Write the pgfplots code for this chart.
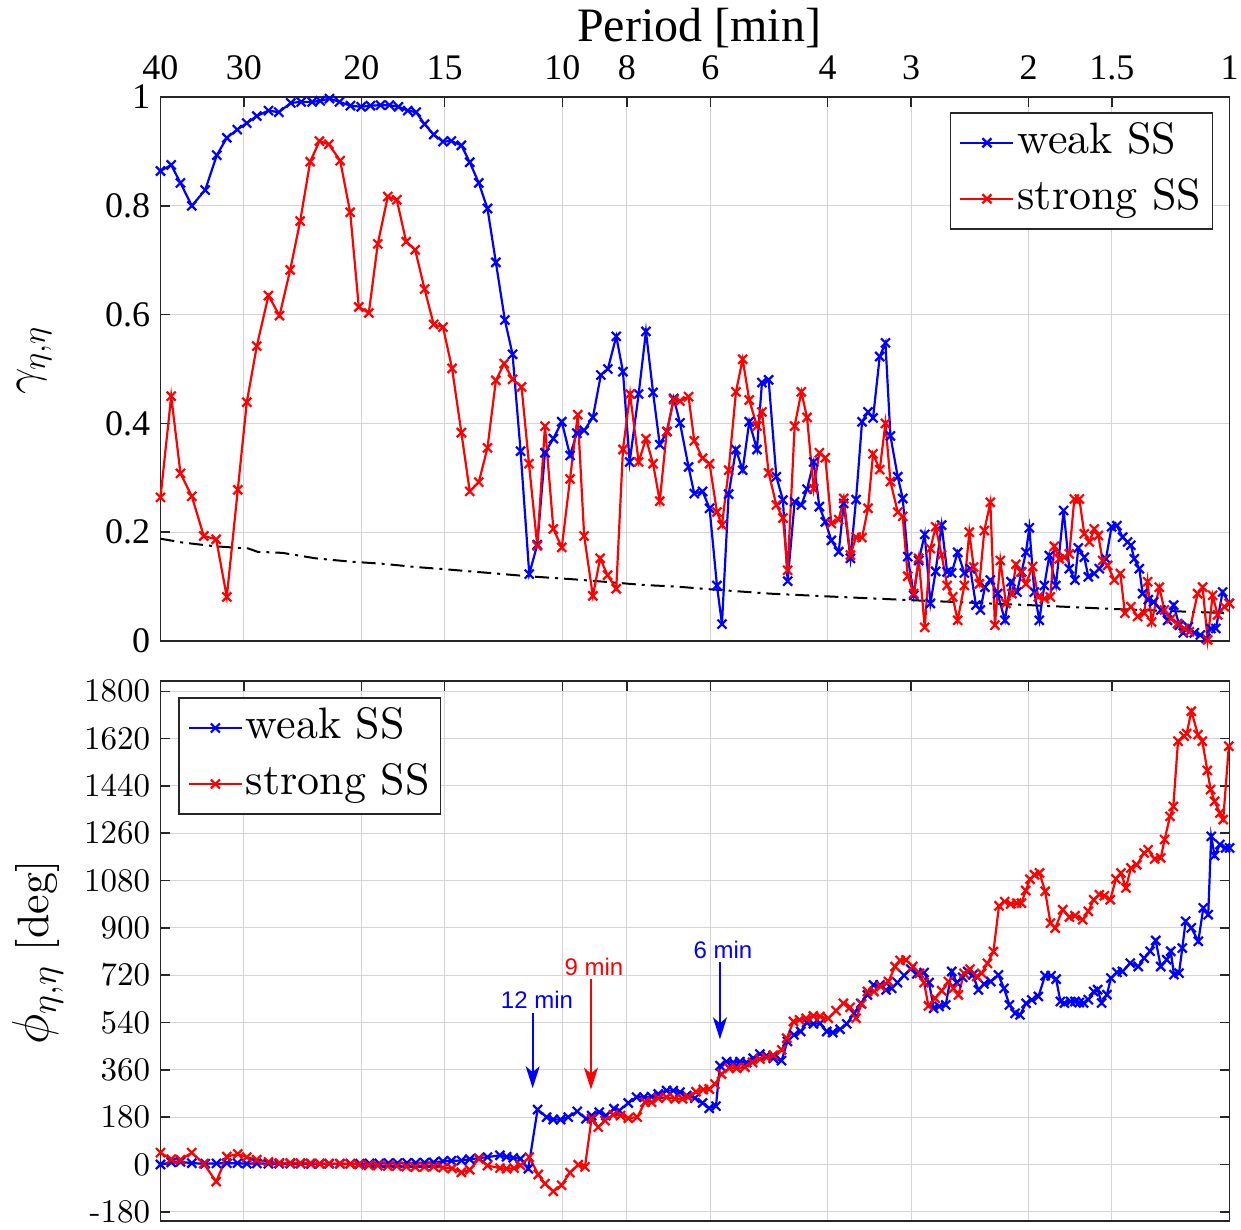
\RequirePackage{fix-cm}
\documentclass[border=0pt]{standalone}
\usepackage{pgfplots}
\pgfplotsset{compat=1.18}
\usepackage{fontspec}
\usetikzlibrary{arrows.meta}
\setmainfont{lmroman10-regular.otf}
\newfontfamily\timesf{Liberation Serif}
\newfontfamily\arialf{Liberation Sans}
\definecolor{mblue}{rgb}{0,0,1}
\definecolor{mred}{rgb}{1,0,0}
\definecolor{frame}{rgb}{0.15,0.15,0.15}

\pgfplotsset{
  mystyle/.style={
    scale only axis, width=534.5pt, xmin=0, xmax=1069.1, clip=false,
    xtick={0,83.4,200.9,284.2,401.8,466.4,549.8,667.3,750.7,868.2,951.5,1069.1},
    xmajorgrids, ymajorgrids,
    grid style={black!17, line width=0.5pt},
    axis line style={frame, line width=0.75pt},
    tick style={frame, line width=0.75pt},
    major tick length=5pt,
    tick align=inside,
    xtick pos=right,
    legend cell align=left,
    legend image code/.code={\draw[mark repeat=2,mark phase=2] plot coordinates {(0pt,0pt) (13.25pt,0pt) (26.5pt,0pt)};},
    legend style={draw=frame, line width=0.75pt, fill=white,
      font=\fontsize{22}{26}\selectfont, inner xsep=4.5pt, inner ysep=4.25pt,
      row sep=6.5pt, nodes={inner sep=1pt, text height=15pt, text depth=4.5pt},
      /tikz/every odd column/.append style={column sep=0.5pt}},
    ylabel style={font=\fontsize{22}{26}\selectfont},
  },
  ser/.style={line width=1.1pt, mark=x, mark size=3.2pt, mark options={solid, line width=1.1pt}},
}

\begin{document}
\begin{tikzpicture}
\path[use as bounding box] (-80.25pt,-294.5pt) rectangle (540.25pt,320.5pt);

% ---------------- top panel: coherence ----------------
\begin{axis}[mystyle, at={(0,0)}, anchor=south west, height=272pt,
  ymin=0, ymax=1, ytick={0,0.2,0.4,0.6,0.8,1}, yticklabels={0,0.2,0.4,0.6,0.8,1},
  ytick pos=left,
  xticklabel pos=right,
  xticklabels={40,30,20,15,10,8,6,4,3,2,1.5,1},
  xticklabel style={font=\timesf\fontsize{18}{18}\selectfont, anchor=base, yshift=8.5pt, inner sep=0pt},
  yticklabel style={font=\timesf\fontsize{18}{18}\selectfont, inner sep=0pt, xshift=-5pt},
  ylabel={\fontsize{23.5}{28}\selectfont$\gamma_{\eta,\eta}$},
  ylabel style={at={(axis description cs:-0.118,0.515)}, anchor=center},
  legend style={at={(axis description cs:0.9846,0.9724)}, anchor=north east},
]
\addplot[black, line width=1pt, dash pattern=on 7pt off 3pt on 1.5pt off 3pt, forget plot] coordinates {
(0,0.188)(22,0.181)(55,0.174)(88,0.170)(97,0.164)(122,0.162)(155,0.152)(189,0.146)(222,0.142)(255,0.136)(284,0.132)(368,0.119)(416,0.113)(450,0.108)(483,0.103)(516,0.100)(550,0.095)(610,0.087)(667,0.082)(751,0.075)(790,0.072)(868,0.066)(951,0.059)(1069.1,0.051)};

\addplot[ser, mblue] coordinates {
(0,0.864)(10.7,0.875)(20,0.842)(31.3,0.800)(44.7,0.829)(56.3,0.893)(66.3,0.925)(76.7,0.940)(86.3,0.952)(96.3,0.965)(108,0.975)(118.3,0.972)(130.3,0.989)(140.7,0.991)(151.7,0.991)(159.7,0.993)(169,0.997)(179,0.991)(190,0.984)(200.7,0.982)(210,0.984)(220,0.985)(229,0.985)(238,0.982)(247.3,0.975)(255.7,0.972)(264.1,0.950)(273.2,0.931)(282.5,0.918)(290.9,0.919)(300.9,0.911)(309.3,0.880)(318.3,0.842)(327,0.795)(335.4,0.696)(344.4,0.590)(352.1,0.527)(360.1,0.349)(368.8,0.123)(376.8,0.177)(384.5,0.346)(392.9,0.372)(401.3,0.403)(409.6,0.341)(416.3,0.382)(423.7,0.387)(432.4,0.411)(440.4,0.489)(447.4,0.500)(455.8,0.560)(462.5,0.495)(469.2,0.329)(478.2,0.454)(485.5,0.569)(492.6,0.457)(499.3,0.361)(506.6,0.385)(513.3,0.446)(519.5,0.401)(528.1,0.320)(533.8,0.271)(542.1,0.275)(549.1,0.244)(556.5,0.102)(561.5,0.031)(568.2,0.270)(575.5,0.352)(582.2,0.314)(588.8,0.403)(596.5,0.352)(601.5,0.475)(608.2,0.480)(615.9,0.302)(622.5,0.259)(627.2,0.110)(634.2,0.256)(640.9,0.250)(646.6,0.279)(653.2,0.329)(658.9,0.247)(664.9,0.219)(670.9,0.185)(678.3,0.164)(683.3,0.253)(690,0.152)(695.6,0.260)(701.6,0.403)(707.6,0.421)(712.6,0.410)(719.3,0.523)(725,0.548)(730,0.377)(737.3,0.302)(742.3,0.262)(747.3,0.155)(753.3,0.084)(758.3,0.148)(764.3,0.196)(770,0.069)(775.2,0.128)(781.2,0.213)(786.7,0.127)(791.2,0.125)(797.2,0.163)(803.9,0.125)(809.9,0.133)(815.5,0.066)(819.9,0.057)(824.5,0.099)(829.9,0.112)(837.2,0.087)(844.5,0.038)(850.5,0.109)(856.5,0.090)(861.2,0.127)(865.5,0.163)(868.9,0.208)(873.9,0.090)(878.9,0.038)(883.9,0.102)(888.9,0.157)(895.5,0.102)(903.2,0.240)(908.9,0.133)(914.5,0.112)(917.9,0.171)(923.9,0.154)(927.9,0.118)(933.9,0.124)(938.9,0.133)(945.5,0.151)(951.2,0.210)(956.5,0.212)(962.2,0.191)(967.2,0.182)(970.5,0.176)(973.9,0.151)(978.9,0.133)(982.2,0.087)(987.9,0.076)(993.2,0.072)(1000.5,0.057)(1007.2,0.038)(1013.2,0.066)(1018.9,0.029)(1022.9,0.015)(1027.9,0.026)(1033.9,0.015)(1039.9,0.011)(1045.5,0.005)(1050.5,0.023)(1055.5,0.023)(1062.2,0.090)(1068.9,0.069)};
\addlegendentry{weak SS}

\addplot[ser, mred] coordinates {
(0,0.264)(10.7,0.450)(20,0.308)(31.3,0.266)(43.3,0.193)(55.7,0.187)(66.3,0.081)(77.3,0.278)(86.3,0.439)(96.3,0.542)(108,0.635)(119,0.598)(129.7,0.682)(139.7,0.772)(149.7,0.881)(159,0.919)(168.3,0.913)(179.7,0.883)(189.7,0.788)(198.3,0.614)(208.3,0.603)(217.3,0.730)(227.3,0.817)(236.3,0.811)(245.7,0.734)(254.7,0.719)(264.1,0.647)(273.2,0.582)(282.5,0.577)(291.6,0.501)(300.9,0.383)(309.3,0.275)(318.3,0.292)(327,0.355)(335.4,0.479)(343.7,0.510)(352.1,0.481)(361.1,0.467)(368.5,0.326)(376.8,0.175)(384.5,0.395)(392.9,0.206)(401.3,0.172)(409.6,0.298)(417.3,0.416)(423.7,0.193)(432.4,0.083)(439.7,0.152)(447.1,0.121)(455.8,0.096)(462.5,0.352)(469.6,0.454)(478.2,0.329)(485.5,0.372)(492.6,0.326)(499.3,0.257)(506.3,0.385)(513.3,0.444)(519.5,0.441)(528.1,0.449)(533.8,0.368)(542.1,0.336)(549.1,0.326)(556.5,0.237)(561.5,0.213)(568.2,0.314)(575.5,0.458)(582.2,0.518)(588.8,0.443)(596.5,0.395)(601.5,0.421)(608.2,0.309)(615.9,0.250)(622.5,0.226)(627.2,0.130)(634.2,0.395)(640.9,0.458)(646.6,0.411)(653.2,0.280)(658.9,0.346)(664.9,0.337)(670.9,0.216)(678.3,0.223)(683.3,0.262)(690,0.158)(695.6,0.191)(701.6,0.190)(707.6,0.244)(712.6,0.344)(719.3,0.315)(725,0.400)(730,0.293)(737.3,0.237)(742.3,0.229)(747.3,0.119)(753.3,0.087)(758.3,0.152)(764.3,0.025)(770,0.170)(775.2,0.210)(781.2,0.158)(786.7,0.102)(792.2,0.081)(797.2,0.038)(803.9,0.102)(808.9,0.200)(813.2,0.136)(818.9,0.105)(823.9,0.203)(829.9,0.255)(834.5,0.029)(839.9,0.148)(845.5,0.069)(851.5,0.087)(855.5,0.141)(860.5,0.127)(865.5,0.105)(872.2,0.137)(877.9,0.081)(883.9,0.078)(889.9,0.081)(893.9,0.174)(898.9,0.151)(903.9,0.154)(908.9,0.160)(913.9,0.261)(918.9,0.261)(923.9,0.197)(928.9,0.182)(933.9,0.206)(937.9,0.194)(942.2,0.148)(947.2,0.139)(953.9,0.112)(959.9,0.124)(964.5,0.051)(970.5,0.063)(977.2,0.045)(983.9,0.051)(987.2,0.109)(991.2,0.035)(998.9,0.099)(1003.9,0.057)(1010.5,0.041)(1017.2,0.032)(1023.9,0.023)(1028.9,0.017)(1037.2,0.087)(1042.2,0.099)(1047.2,0.002)(1052.2,0.084)(1057.2,0.048)(1063.9,0.063)(1068.9,0.069)};
\addlegendentry{strong SS}

\node[font=\timesf\fontsize{24}{24}\selectfont, anchor=base, inner sep=0pt, yshift=27.5pt] at (axis description cs:0.504,1) {Period [min]};
\end{axis}

% ---------------- bottom panel: phase ----------------
\begin{axis}[mystyle, at={(0,-20pt)}, anchor=north west, height=270pt,
  ymin=-215, ymax=1839,
  ytick={-180,0,180,360,540,720,900,1080,1260,1440,1620,1800},
  yticklabels={-180,0,180,360,540,720,900,1080,1260,1440,1620,1800},
  ytick pos=both,
  xticklabels={},
  yticklabel style={font=\fontsize{16.5}{16.5}\selectfont, inner sep=0pt, xshift=-5pt},
  ylabel={{\fontsize{26}{30}\selectfont$\phi_{\eta,\eta}$} [deg]},
  ylabel style={at={(axis description cs:-0.115,0.497)}, anchor=center},
  legend style={at={(axis description cs:0.0164,0.970)}, anchor=north west},
]
\addplot[ser, mblue] coordinates {
(0,0)(10.7,8)(20,10)(31.3,5)(44.7,3)(56,4)(66.3,5)(77,5)(86.3,3)(96.3,4)(108,3)(118.7,3)(130,3)(140.2,3)(150.7,2)(159.3,3)(168.7,3)(179.3,3)(190,3)(199.5,3)(209,4)(218.7,4)(228,5)(237,5)(246.5,6)(255.2,6)(264.1,7)(273.2,8)(282.5,12)(291,14)(300.9,15)(309.3,20)(318.3,24)(327,28)(339.5,35)(346.1,29)(352.8,25)(360.1,22)(367.8,-16)(377.1,209)(386.1,180)(392.8,171)(400.1,171)(407.8,180)(416.8,202)(425.5,174)(431.1,186)(438.8,199)(445.5,186)(453.5,212)(458.8,205)(467.8,234)(476.1,256)(483.5,256)(491.1,258)(497.8,268)(506.1,281)(512.8,281)(519.5,275)(526.1,262)(534.5,252)(542.1,234)(548.8,214)(555.5,222)(559.5,376)(566.1,391)(572.8,388)(579.5,391)(586.1,388)(592.8,404)(599.5,420)(606.1,414)(612.8,404)(621.1,395)(627,468)(633.6,493)(640.3,506)(646.3,540)(653,535)(659.6,537)(666.3,506)(672.3,502)(679.6,514)(686.3,535)(693.6,575)(700.3,613)(707,645)(713,683)(719.6,683)(725.6,664)(731.3,670)(737,692)(743.6,719)(750.3,743)(756.3,725)(763.6,730)(768.6,692)(773.3,594)(778.6,601)(785.3,607)(791.3,734)(796.3,692)(802.3,712)(807.3,734)(812.3,721)(818,664)(823.6,687)(830.3,696)(838,721)(843.6,670)(849,607)(854.6,575)(859.6,569)(865.6,613)(871.3,626)(878,639)(884.6,718)(890.7,718)(895.7,705)(900,620)(904,614)(910,620)(914.6,620)(918.9,616)(923.2,614)(927.9,627)(933.2,658)(937.2,665)(941.2,614)(946.5,646)(950.5,709)(956.5,731)(962.1,734)(969.8,766)(977.8,753)(983.7,785)(989.7,811)(995.3,852)(1000.3,753)(1006.3,779)(1010.3,811)(1013.6,722)(1018.6,728)(1021.9,823)(1025.2,925)(1030.9,900)(1037.9,849)(1042.9,976)(1047.8,950)(1050.8,1248)(1054.2,1175)(1059.5,1217)(1065.1,1204)(1069.1,1204)};
\addlegendentry{weak SS}

\addplot[ser, mred] coordinates {
(0,45)(10.7,20)(20,18)(31.3,45)(43.3,3)(55.7,-65)(66.3,30)(77.3,40)(86.3,28)(96.3,18)(108,10)(119,6)(129.7,6)(139.7,5)(149.7,4)(159,3)(168.3,3)(179.7,2)(189.7,2)(198.3,0)(208.3,-3)(217.3,-4)(227.3,-6)(236.3,-6)(245.7,-8)(254.7,-10)(264.1,-9)(273.2,-8)(282.5,-12)(291.6,-15)(300.9,-30)(309.3,-20)(318.3,21)(327,-4)(339.5,-14)(346.1,-16)(353.5,-14)(360.1,-3)(368.8,28)(377.8,-38)(384.5,-73)(392.8,-102)(401.1,-79)(409.5,-31)(417.8,-1)(424.5,-9)(431.1,174)(437.8,142)(444.5,167)(452.8,189)(460.1,186)(467.8,176)(476.8,180)(484.5,237)(491.1,237)(497.8,252)(506.1,256)(514.5,250)(522.1,250)(527.8,256)(535.5,277)(542.8,285)(548.8,287)(554.5,306)(561.1,344)(568.8,366)(576.1,366)(584.5,370)(592.1,388)(599.5,401)(606.1,407)(612.8,416)(621.3,436)(626.3,480)(633,544)(639,550)(645.6,556)(653,565)(659.6,563)(667.9,556)(675.6,585)(683,613)(689.6,598)(695.6,556)(701.3,611)(707,658)(713.6,658)(720.3,677)(728,696)(734.6,753)(739.6,776)(745.6,778)(752.3,753)(759,727)(763.6,692)(768,603)(774.6,632)(781.3,661)(788,696)(793,670)(798,645)(803.6,727)(809.6,743)(816.3,715)(821.3,727)(827,765)(833,810)(838.6,984)(844.3,1000)(850.3,991)(856.3,994)(861,994)(865.3,1042)(869.6,1085)(874.1,1102)(879.1,1109)(884.7,1039)(890.1,918)(894.7,899)(902.3,969)(909,941)(914.6,946)(922.3,931)(927.9,963)(933.2,1007)(938.9,1026)(943.9,1022)(949.8,1007)(955.5,1086)(960.5,1109)(965.5,1052)(970.5,1128)(976.4,1140)(983.7,1185)(987.7,1197)(994.2,1162)(1000.3,1166)(1004.2,1236)(1009.6,1324)(1012.9,1362)(1017.6,1610)(1023.6,1629)(1026.3,1639)(1030.9,1724)(1037.6,1635)(1041.9,1610)(1046.9,1499)(1050.2,1426)(1054.2,1381)(1059.5,1337)(1062.8,1312)(1068.4,1591)};
\addlegendentry{strong SS}

\draw[mblue, line width=1pt, -{Stealth[length=11pt,width=7pt,inset=3pt]}] (axis cs:372.2,578) -- (axis cs:372.2,290);
\draw[mred, line width=1pt, -{Stealth[length=11pt,width=7pt,inset=3pt]}] (axis cs:430.5,704) -- (axis cs:430.5,285);
\draw[mblue, line width=1pt, -{Stealth[length=11pt,width=7pt,inset=3pt]}] (axis cs:559.5,772) -- (axis cs:559.5,476);
\node[mblue, font=\arialf\fontsize{12}{14}\selectfont, inner sep=0pt] at (axis cs:376.5,628) {12 min};
\node[mred, font=\arialf\fontsize{12}{14}\selectfont, inner sep=0pt] at (axis cs:433.5,750) {9 min};
\node[mblue, font=\arialf\fontsize{12}{14}\selectfont, inner sep=0pt] at (axis cs:562.5,818) {6 min};
\end{axis}
\end{tikzpicture}
\end{document}
